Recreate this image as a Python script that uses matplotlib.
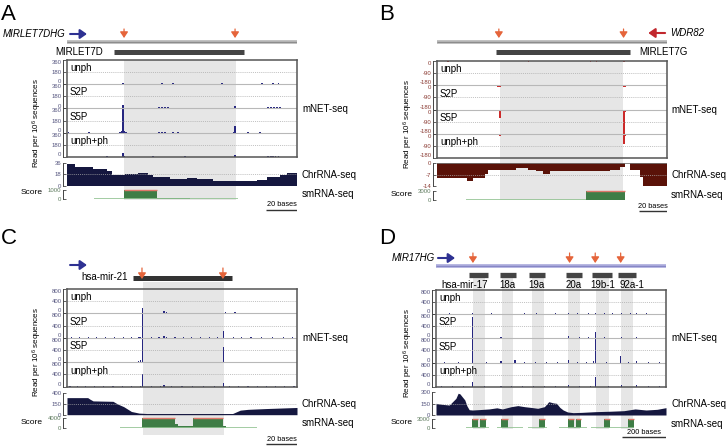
import numpy as np
import matplotlib.pyplot as plt

plt.rcParams['font.family'] = ['Liberation Sans', 'DejaVu Sans']
plt.rcParams['mathtext.default'] = 'regular'

# ---------------- data (x = position in bases) ----------------
# panel A : MIRLET7D
A_len = 150
A_shade = [37, 110]
A_cut = [37.2, 109.6]
A_pre = [30.7, 115.5]
A_gene = [2, 13]
A_unph_pos = [36.5, 62, 69, 101, 127, 134.5, 138]
A_unph_val = [25, 12, 12, 12, 12, 12, 12]
A_s2p_pos = [7.5, 9.5, 26, 36.5, 53, 60, 62, 64, 66, 72.5, 90, 92, 101, 109.5, 116, 118.5, 121, 125, 131, 133, 135, 137, 139]
A_s2p_val = [12, 12, 12, 45, 12, 15, 15, 15, 15, 12, 12, 12, 12, 35, 12, 12, 12, 12, 15, 15, 15, 15, 15]
A_s5p_pos = [1, 14.5, 34.5, 35.5, 36.5, 37.5, 38.5, 60, 62, 64, 69, 72.5, 108.5, 109.5, 118, 126]
A_s5p_val = [10, 10, 12, 25, 360, 25, 12, 12, 12, 12, 10, 10, 15, 100, 10, 10]
A_uph_pos = [26, 36.5, 37.5, 56, 77, 109.5, 131, 133, 134.5, 136, 138]
A_uph_val = [10, 55, 15, 10, 10, 25, 12, 12, 12, 12, 12]
A_chr_x = [0, 5.2, 17.2, 25.9, 29.1, 37.8, 46.5, 53, 56.3, 67.2, 78, 84.6, 95.4, 110.7, 123.7, 130.2, 138.9, 143.3, 150]
A_chr_y = [34.4, 29, 27, 23, 16.7, 19.3, 20.3, 17.7, 14, 11.5, 12.5, 10.4, 8.3, 7.3, 9.4, 13.6, 16.7, 20.3]
A_sc_x0 = [37.4, 58.9]
A_sc_x1 = [58.9, 80.2]
A_sc_v = [1000, 25]
A_sc_base = [[17.8], [111.7]]

# panel B : MIRLET7G (reverse strand)
B_len = 164
B_shade = [44.9, 133]
B_cut = [44.2, 133.3]
B_pre = [42.1, 137.6]
B_gene = [163, 151]
B_unph_pos = [8, 65.6, 109.8, 113.9, 133.6]
B_unph_val = [-8, -8, -8, -8, -8]
B_s2p_pos = [24.7, 43.7, 44.9, 61, 63, 65.6, 102, 133.6, 134.6, 159, 161, 162.6]
B_s2p_val = [-6, -12, -10, -6, -6, -6, -6, -15, -10, -6, -6, -6]
B_s5p_pos = [2, 4, 5.7, 10.5, 14, 20, 23.5, 44.9, 52.1, 102, 133.6, 134.6, 135.6, 137.6, 140, 143.6, 147.1, 153.1]
B_s5p_val = [-6, -6, -6, -6, -6, -6, -6, -60, -8, -6, -180, -20, -12, -8, -6, -6, -6, -6]
B_uph_pos = [1, 3, 5, 7, 9, 11, 13, 15, 17, 20, 23, 26, 30, 35, 44.9, 65.6, 80.6, 102, 129.3, 133.6, 134.6, 148.3, 154.3, 160.2]
B_uph_val = [-6, -6, -6, -6, -6, -6, -6, -6, -6, -6, -6, -6, -6, -6, -12, -6, -6, -6, -6, -72, -12, -6, -6, -6]
B_chr_x = [0, 21.2, 25.7, 34.2, 36.6, 56.8, 65.1, 71.1, 75.8, 80.6, 123.4, 130.5, 134.1, 137.6, 144.8, 147.1, 164]
B_chr_y = [-9.3, -10.8, -9.3, -6.3, -4.3, -2.8, -3.9, -4.9, -6.7, -4.9, -3.9, -2.2, 0, -4.3, -8.3, -14]
B_sc_x0 = [106.2]
B_sc_x1 = [134.1]
B_sc_v = [3000]
B_sc_base = [[20.7], [106.2]]

# panel C : hsa-mir-21
C_len = 150
C_shade = [49.4, 102.6]
C_cut = [48.9, 101.7]
C_pre = [43, 107.6]
C_gene = [2, 13]
C_unph_pos = [2, 5, 9, 13, 17, 20, 24, 28, 32, 36, 40, 44, 49, 53, 57, 63.3, 65, 69, 73, 78, 82, 86, 91, 95, 99, 103.5, 109.6, 113, 117, 121, 125, 130, 135, 140, 145]
C_unph_val = [20, 25, 20, 30, 25, 20, 20, 25, 20, 20, 25, 20, 170, 20, 25, 80, 40, 25, 20, 20, 25, 20, 30, 20, 20, 40, 60, 20, 25, 20, 20, 25, 20, 20, 25]
C_s2p_pos = [3, 8, 14, 19, 25, 31, 37, 42, 47, 48, 49, 55, 60, 63.3, 65, 70.4, 76, 81, 87, 93, 98, 101.9, 108.5, 114, 120, 127, 134, 141, 147]
C_s2p_val = [20, 20, 25, 20, 20, 25, 20, 20, 25, 40, 800, 20, 20, 70, 35, 25, 20, 20, 25, 20, 20, 230, 40, 20, 20, 20, 20, 20, 20]
C_s5p_pos = [4, 10, 16, 22, 28, 34, 40, 46.5, 48, 49, 54, 60, 66, 72, 78, 84, 90, 96, 101.9, 107, 113, 119, 125, 131, 137, 143]
C_s5p_val = [20, 20, 20, 25, 20, 20, 25, 40, 60, 800, 20, 25, 20, 20, 25, 20, 20, 25, 490, 25, 20, 25, 20, 20, 20, 20]
C_uph_pos = [2, 7, 12, 18, 24, 30, 36, 42, 48, 49, 55, 61, 63.3, 68, 75, 82, 89, 96, 101.9, 106, 112, 118, 124, 130, 136, 142, 148]
C_uph_val = [20, 25, 20, 20, 25, 20, 20, 25, 30, 420, 20, 20, 40, 20, 25, 20, 20, 25, 110, 25, 20, 20, 25, 20, 20, 20, 20]
C_chr_x = [0, 13.5, 15, 17, 30, 33, 37, 42, 47, 52, 108, 113, 118, 130, 150]
C_chr_y = [319, 319, 290, 258, 250, 200, 150, 60, 30, 22, 22, 85, 100, 115, 135]
C_sc_x0 = [48.7, 70.4, 72.5, 82.3, 101.9]
C_sc_x1 = [70.4, 72.5, 82.3, 101.9, 103.5]
C_sc_v = [4000, 1500, 900, 4000, 800]
C_sc_base = [[34.5], [123.7]]

# panel D : MIR17HG cluster
D_len = 1040
D_shade_x0 = [167, 298, 434, 597, 723, 836]
D_shade_x1 = [221, 348, 488, 651, 782, 890]
D_cut = [167, 604, 720, 835]
D_pre_x0 = [149, 289, 420, 588, 705, 823]
D_pre_x1 = [235, 362, 493, 660, 796, 904]
D_pre_names = ['hsa-mir-17', '18a', '19a', '20a', '19b-1', '92a-1']
D_pre_lab = [130, 325, 456, 624, 755, 886]
D_gene = [9, 86]
D_unph_pos = [20, 60, 100, 140, 166, 200, 250, 300, 350, 400, 455, 500, 540, 598, 640, 690, 722, 760, 800, 840, 880, 907, 950, 1000]
D_unph_val = [20, 25, 20, 20, 40, 20, 25, 20, 20, 25, 30, 20, 25, 25, 30, 30, 30, 25, 30, 25, 30, 35, 25, 20]
D_s2p_pos = [30, 80, 120, 166, 210, 260, 294, 330, 380, 420, 470, 520, 560, 598, 650, 690, 722, 760, 800, 840, 870, 907, 950, 1000]
D_s2p_val = [20, 25, 20, 700, 25, 20, 45, 25, 20, 25, 20, 25, 20, 65, 30, 30, 195, 30, 25, 35, 25, 45, 25, 20]
D_s5p_pos = [40, 100, 166, 230, 294, 357, 400, 450, 500, 550, 598, 640, 680, 711, 722, 770, 835, 870, 907, 960, 1010]
D_s5p_val = [20, 20, 800, 20, 60, 100, 20, 20, 25, 20, 80, 25, 25, 60, 800, 25, 200, 25, 40, 20, 20]
D_uph_pos = [25, 75, 125, 166, 220, 294, 340, 390, 440, 490, 540, 598, 650, 700, 722, 780, 840, 907, 960, 1010]
D_uph_val = [20, 20, 20, 170, 20, 30, 20, 20, 25, 20, 20, 40, 25, 25, 310, 25, 60, 60, 25, 20]
D_chr_x = [0, 30, 60, 75, 90, 100, 108, 118, 130, 140, 150, 165, 200, 240, 275, 300, 340, 370, 400, 430,
           460, 490, 510, 530, 545, 560, 575, 595, 620, 660, 720, 790, 850, 900, 950, 1000, 1040]
D_chr_y = [154, 140, 132, 176, 220, 287, 280, 243, 200, 120, 70, 66, 72, 80, 95, 80, 110, 124, 110, 100,
           88, 110, 176, 160, 154, 100, 66, 40, 31, 35, 44, 50, 57, 80, 66, 75, 97]
D_sc_x0 = [161, 191, 199, 226, 294, 324, 467, 598, 624, 631, 655, 759, 786, 869]
D_sc_x1 = [191, 199, 226, 240, 324, 360, 493, 624, 631, 655, 670, 786, 810, 895]
D_sc_v = [3000, 200, 3000, 150, 3000, 150, 3000, 3000, 200, 3000, 150, 3000, 150, 3000]
D_sc_base = [[136, 274, 414, 558, 701, 817], [241, 392, 500, 681, 817, 895]]

TRACKS = ['unph', 'S2P', 'S5P', 'unph+ph']
NAVY = '#262680'
RED = '#cc2a2a'
ORANGE = '#e5643a'

W, H = 727, 448
fig = plt.figure(figsize=(W / 100, H / 100), dpi=100)


def rect(x0, y0, x1, y1):
    return [x0 / W, 1 - y1 / H, (x1 - x0) / W, (y1 - y0) / H]


def ftext(x, y, s, **kw):
    kw.setdefault('va', 'center')
    fig.text(x / W, 1 - y / H, s, **kw)


def new_ax(x0, y0, x1, y1, xlim, ylim, z=2):
    ax = fig.add_axes(rect(x0, y0, x1, y1))
    ax.set_xlim(xlim)
    ax.set_ylim(ylim)
    ax.patch.set_visible(False)
    ax.set_zorder(z)
    for s in ax.spines.values():
        s.set_visible(False)
    ax.set_xticks([])
    ax.set_yticks([])
    return ax


def yaxis(ax, ticks, labels, color, stack=False):
    sp = ax.spines['left']
    sp.set_visible(True)
    sp.set_position(('outward', 3))
    sp.set_color('#444444')
    sp.set_linewidth(0.7)
    ax.set_yticks(ticks)
    ax.set_yticklabels(labels)
    ax.tick_params(axis='y', direction='in', length=2, width=0.6, pad=1,
                   labelsize=4.3, labelcolor=color, color='#444444')
    if stack:
        # stacked tracks: keep the end labels inside their own track
        tl = ax.get_yticklabels()
        tl[0].set_va('bottom')
        tl[-1].set_va('top')


def arrow(ax, x0, y0, x1, y1, color, lw, hw, hl):
    ax.annotate('', xy=(x1, y1), xytext=(x0, y0), annotation_clip=False,
                arrowprops=dict(arrowstyle='-|>,head_width=%s,head_length=%s' % (hw, hl),
                                color=color, lw=lw, shrinkA=0, shrinkB=0, mutation_scale=8))


def gene_line(ax, xmax, y, c1, c2):
    ax.hlines(y, 0, xmax, color=c1, lw=2.6)
    ax.hlines(y, 0, xmax, color=c2, lw=0.7)


def panel(g, xmax, sh0, sh1, tracks, mlim, mticks, bar_col, bar_w,
          chr_x, chr_y, chr_step, chr_lim, chr_ticks, chr_col, tcol,
          sc_x0, sc_x1, sc_v, sc_base, sc_max, scale_len, scale_txt):
    x0, x1 = g['x0'], g['x1']
    xl = (0, xmax)
    bg = new_ax(x0, g['sh0'], x1, g['sh1'], xl, (0, 1), z=0)
    for a, b in zip(sh0, sh1):
        bg.axvspan(a, b, color='#e6e6e6', lw=0)

    b0, b1 = g['b0'], g['b1']
    bx = new_ax(x0, b0, x1, b1, xl, (0, 4), z=3)
    for s in bx.spines.values():
        s.set_visible(True)
        s.set_color('#555555')
        s.set_linewidth(1.1)
    for k in (1, 2, 3):
        bx.axhline(k, color='#b8b8b8', lw=0.8)
    th = (b1 - b0) / 4
    for i, (pos, val) in enumerate(tracks):
        ax = new_ax(x0, b0 + i * th, x1, b0 + (i + 1) * th, xl, mlim)
        ax.axhline(sum(mlim) / 2, color='#aaaaaa', lw=0.5, ls=(0, (1.5, 1.5)))
        ax.bar(pos, val, width=bar_w, color=bar_col, lw=0)
        yaxis(ax, mticks, [str(t) for t in mticks], tcol, stack=True)
        ax.text(0.013, 0.66, TRACKS[i], transform=ax.transAxes, fontsize=7, va='center')

    cx = new_ax(x0, g['c0'], x1, g['c1'], xl, chr_lim)
    if chr_step:
        cx.fill_between(chr_x, np.append(chr_y, chr_y[-1]), 0, step='post', color=chr_col, lw=0)
    else:
        cx.fill_between(chr_x, chr_y, 0, color=chr_col, lw=0)
    cx.axhline(sum(chr_lim) / 2, color='#aaaaaa', lw=0.5, ls=(0, (1.5, 1.5)), zorder=3)
    cx.axhline(0, color='#777777', lw=0.6)
    yaxis(cx, [chr_lim[0], sum(chr_lim) / 2, chr_lim[1]], chr_ticks, tcol)

    sx = new_ax(x0, g['s0'], x1, g['s1'], xl, (0, sc_max))
    sx.hlines(np.zeros(len(sc_base[0])), sc_base[0], sc_base[1], color='#93c393', lw=1.2)
    widths = np.subtract(sc_x1, sc_x0)
    sx.bar(sc_x0, sc_v, width=widths, align='edge', color='#3f7d46', lw=0)
    for a, b, v in zip(sc_x0, sc_x1, sc_v):
        if v >= sc_max:
            sx.hlines(sc_max, a, b, color='#e0776a', lw=1.0, clip_on=False)
    yaxis(sx, [0, sc_max], ['0', str(sc_max)], '#5d7a5d')

    sb = new_ax(x0, g['sb'] - 2, x1, g['sb'] + 2, xl, (0, 1))
    sb.hlines(0.5, xmax - scale_len, xmax, color='#333333', lw=1.0)
    xc = x1 - (x1 - x0) * scale_len / xmax / 2
    ftext(xc, g['sbt'], scale_txt, fontsize=5.3, ha='center')

    ftext(g['rx'], (b0 + b1) / 2, 'mNET-seq', fontsize=7)
    ftext(g['rx'], (g['c0'] + g['c1']) / 2, 'ChrRNA-seq', fontsize=7)
    ftext(g['rx'], (g['s0'] + g['s1']) / 2, 'smRNA-seq', fontsize=7)
    ftext(g['scx'], (g['s0'] + g['s1']) / 2 - 1, 'Score', fontsize=6, ha='right')
    ftext(g['ylx'], (b0 + g['c1']) / 2, 'Read per 10$^6$ sequences', fontsize=5.8,
          rotation=90, ha='center')


gA = dict(x0=67, x1=297, b0=60, b1=157, c0=163, c1=186, s0=189.5, s1=198.5, sh0=60, sh1=200,
          sb=210, sbt=204, ylx=37, rx=302, scx=43)
gB = dict(x0=437, x1=666.5, b0=61, b1=158.3, c0=163.3, c1=186, s0=190.7, s1=200, sh0=61, sh1=200,
          sb=211, sbt=206, ylx=408, rx=671, scx=413)
gC = dict(x0=67, x1=297, b0=289, b1=386.7, c0=393.3, c1=414.7, s0=418.3, s1=428, sh0=282, sh1=434.7,
          sb=444, sbt=439, ylx=37, rx=302, scx=43)
gD = dict(x0=436, x1=666, b0=290, b1=386.7, c0=392.3, c1=415, s0=419, s1=428, sh0=277, sh1=429,
          sb=437, sbt=432, ylx=408, rx=671, scx=413)

# ---- A ----
panel(gA, A_len, [A_shade[0]], [A_shade[1]],
      [(A_unph_pos, A_unph_val), (A_s2p_pos, A_s2p_val), (A_s5p_pos, A_s5p_val), (A_uph_pos, A_uph_val)],
      (0, 360), [0, 180, 360], NAVY, 1.0,
      A_chr_x, A_chr_y, True, (0, 36), ['0', '18', '36'], '#15173f', '#55557f',
      A_sc_x0, A_sc_x1, A_sc_v, A_sc_base, 1000, 20, '20 bases')
hA = new_ax(67, 24, 297, 58, (0, A_len), (58, 24), z=4)
gene_line(hA, A_len, 42, '#b4b4b4', '#8c8c8c')
for c in A_cut:
    arrow(hA, c, 29, c, 38, ORANGE, 0.9, 0.3, 0.45)
arrow(hA, A_gene[0], 34, A_gene[1], 34, '#2e3192', 1.5, 0.35, 0.5)
hA.hlines(52, A_pre[0], A_pre[1], color='#444444', lw=3.6)
ftext(65, 34, 'MIRLET7DHG', fontsize=7, style='italic', ha='right')
ftext(103, 52, 'MIRLET7D', fontsize=7, ha='right')
ftext(1, 14, 'A', fontsize=16)

# ---- B ----
panel(gB, B_len, [B_shade[0]], [B_shade[1]],
      [(B_unph_pos, B_unph_val), (B_s2p_pos, B_s2p_val), (B_s5p_pos, B_s5p_val), (B_uph_pos, B_uph_val)],
      (-180, 0), [-180, -90, 0], RED, 1.0,
      B_chr_x, B_chr_y, True, (-14, 0), ['-14', '-7', '0'], '#5a1208', '#8a3a32',
      B_sc_x0, B_sc_x1, B_sc_v, B_sc_base, 3000, 20, '20 bases')
hB = new_ax(437, 24, 666.5, 58, (0, B_len), (58, 24), z=4)
gene_line(hB, B_len, 42, '#b4b4b4', '#8c8c8c')
for c in B_cut:
    arrow(hB, c, 29, c, 38, ORANGE, 0.9, 0.3, 0.45)
arrow(hB, B_gene[0], 33, B_gene[1], 33, '#c1272d', 1.5, 0.35, 0.5)
hB.hlines(52, B_pre[0], B_pre[1], color='#444444', lw=3.6)
ftext(670, 33, 'WDR82', fontsize=7, style='italic', ha='left')
ftext(639, 52, 'MIRLET7G', fontsize=7, ha='left')
ftext(379, 14, 'B', fontsize=16)

# ---- C ----
panel(gC, C_len, [C_shade[0]], [C_shade[1]],
      [(C_unph_pos, C_unph_val), (C_s2p_pos, C_s2p_val), (C_s5p_pos, C_s5p_val), (C_uph_pos, C_uph_val)],
      (0, 800), [0, 400, 800], NAVY, 0.8,
      C_chr_x, C_chr_y, False, (0, 400), ['0', '150', '400'], '#15173f', '#55557f',
      C_sc_x0, C_sc_x1, C_sc_v, C_sc_base, 4000, 20, '20 bases')
hC = new_ax(67, 255, 297, 285, (0, C_len), (285, 255), z=4)
arrow(hC, C_gene[0], 265, C_gene[1], 265, '#2e3192', 1.5, 0.35, 0.5)
hC.hlines(278, C_pre[0], C_pre[1], color='#333333', lw=3.6)
for c in C_cut:
    arrow(hC, c, 268, c, 279, ORANGE, 0.9, 0.3, 0.45)
ftext(128, 277, 'hsa-mir-21', fontsize=7, ha='right')
ftext(1, 238, 'C', fontsize=16)

# ---- D ----
panel(gD, D_len, D_shade_x0, D_shade_x1,
      [(D_unph_pos, D_unph_val), (D_s2p_pos, D_s2p_val), (D_s5p_pos, D_s5p_val), (D_uph_pos, D_uph_val)],
      (0, 800), [0, 400, 800], NAVY, 5,
      D_chr_x, D_chr_y, False, (0, 300), ['0', '150', '300'], '#15173f', '#55557f',
      D_sc_x0, D_sc_x1, D_sc_v, D_sc_base, 3000, 200, '200 bases')
hD = new_ax(436, 250, 666, 290, (0, D_len), (290, 250), z=4)
gene_line(hD, D_len, 266, '#a8a8da', '#8686c6')
for c in D_cut:
    arrow(hD, c, 253, c, 263, ORANGE, 0.9, 0.3, 0.45)
arrow(hD, D_gene[0], 258, D_gene[1], 258, '#2e3192', 1.5, 0.35, 0.5)
hD.hlines(np.full(len(D_pre_x0), 275), D_pre_x0, D_pre_x1, color='#444444', lw=3.8)
for name, xc in zip(D_pre_names, D_pre_lab):
    hD.text(xc, 285.5, name, fontsize=7, ha='center', va='center', clip_on=False)
ftext(435, 258, 'MIR17HG', fontsize=7, style='italic', ha='right')
ftext(379, 238, 'D', fontsize=16)

fig.savefig('out.png', dpi=100)
